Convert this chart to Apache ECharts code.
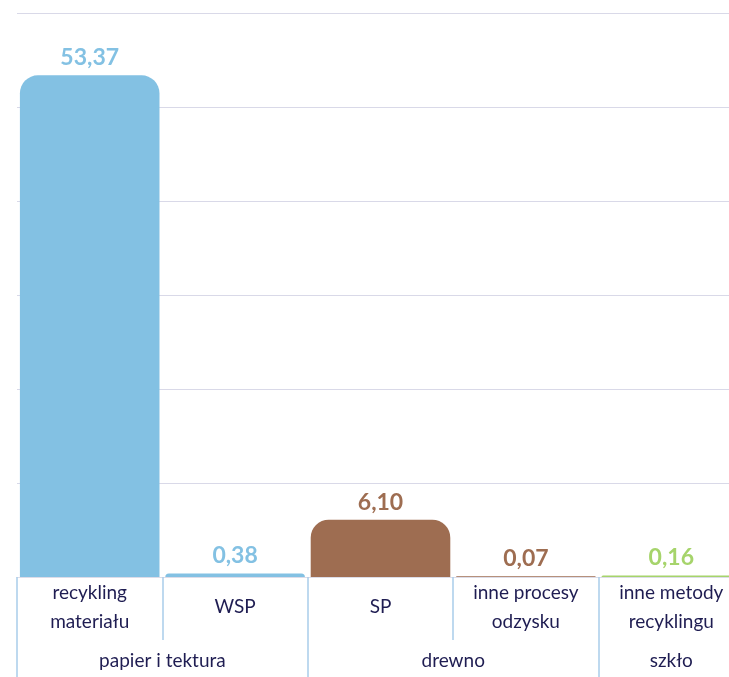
<!DOCTYPE html>
<html>
<head>
<meta charset="utf-8">
<script src="https://cdn.jsdelivr.net/npm/echarts@6/dist/echarts.min.js"></script>
<style>
html,body{margin:0;padding:0;background:#fff;overflow:hidden;width:729px;height:677px;}
#chart{width:744px;height:677px;}
</style>
</head>
<body>
<div id="chart"></div>
<script>
// Data
var categories = ['recykling\nmateriału', 'WSP', 'SP', 'inne procesy\nodzysku', 'inne metody\nrecyklingu'];
var values = [53.37, 0.38, 6.10, 0.07, 0.16];
var groupLabels = ['papier i tektura', 'drewno', 'szkło'];
var groupSizes = [2, 2, 1];
var yTicks = [0, 10, 20, 30, 40, 50, 60];

// Styles
var barColors = ['#83c1e3', '#83c1e3', '#9e6d51', '#9e6d51', '#a6d46b'];
var labelColors = ['#83c1e3', '#83c1e3', '#9e6d51', '#9e6d51', '#a6d46b'];
var cellLine = '#a9cdea';

// group boundaries & centers (in category units)
var bounds = [0], centers = [];
groupSizes.forEach(function (s) {
  var b = bounds[bounds.length - 1];
  centers.push(b + s / 2);
  bounds.push(b + s);
});

var chart = echarts.init(document.getElementById('chart'), null, {renderer: 'canvas'});
chart.setOption({
  animation: false,
  backgroundColor: '#ffffff',
  grid: {left: 17, top: 13, right: 0, height: 564, containLabel: false},
  xAxis: [{
    type: 'category',
    data: categories,
    position: 'bottom',
    axisLine: {show: true, lineStyle: {color: '#dcdce8', width: 1}},
    axisTick: {show: true, alignWithLabel: false, length: 63, lineStyle: {color: cellLine, width: 1.5}},
    axisLabel: {
      interval: 0, margin: 30, verticalAlign: 'middle',
      color: '#1f1d52', fontFamily: 'Lato', fontSize: 19, lineHeight: 29
    },
    splitLine: {show: false}
  }, {
    type: 'value',
    min: 0, max: categories.length,
    position: 'bottom',
    offset: 63,
    axisLine: {show: false, onZero: false},
    splitLine: {show: false},
    axisTick: {show: true, customValues: bounds, length: 45, lineStyle: {color: cellLine, width: 1.5}},
    axisLabel: {
      show: true, customValues: centers, margin: 21, verticalAlign: 'middle',
      color: '#1f1d52', fontFamily: 'Lato', fontSize: 19,
      formatter: function (v) {
        var i = centers.indexOf(v);
        return i >= 0 ? groupLabels[i] : '';
      }
    }
  }],
  yAxis: {
    type: 'value',
    min: yTicks[0], max: yTicks[yTicks.length - 1], interval: yTicks[1] - yTicks[0],
    axisLine: {show: false}, axisTick: {show: false}, axisLabel: {show: false},
    splitLine: {show: true, lineStyle: {color: '#d9d9e8', width: 1.2}}
  },
  series: [{
    type: 'bar',
    xAxisIndex: 0,
    barCategoryGap: '4%',
    data: values.map(function (v, i) {
      return {
        value: v,
        itemStyle: {color: barColors[i], borderRadius: [18, 18, 0, 0]},
        label: {color: labelColors[i]}
      };
    }),
    label: {
      show: true, position: 'top', distance: 6,
      fontFamily: 'Lato', fontWeight: 'bold', fontSize: 23,
      formatter: function (p) { return p.value.toFixed(2).replace('.', ','); }
    }
  }]
});
</script>
</body>
</html>
